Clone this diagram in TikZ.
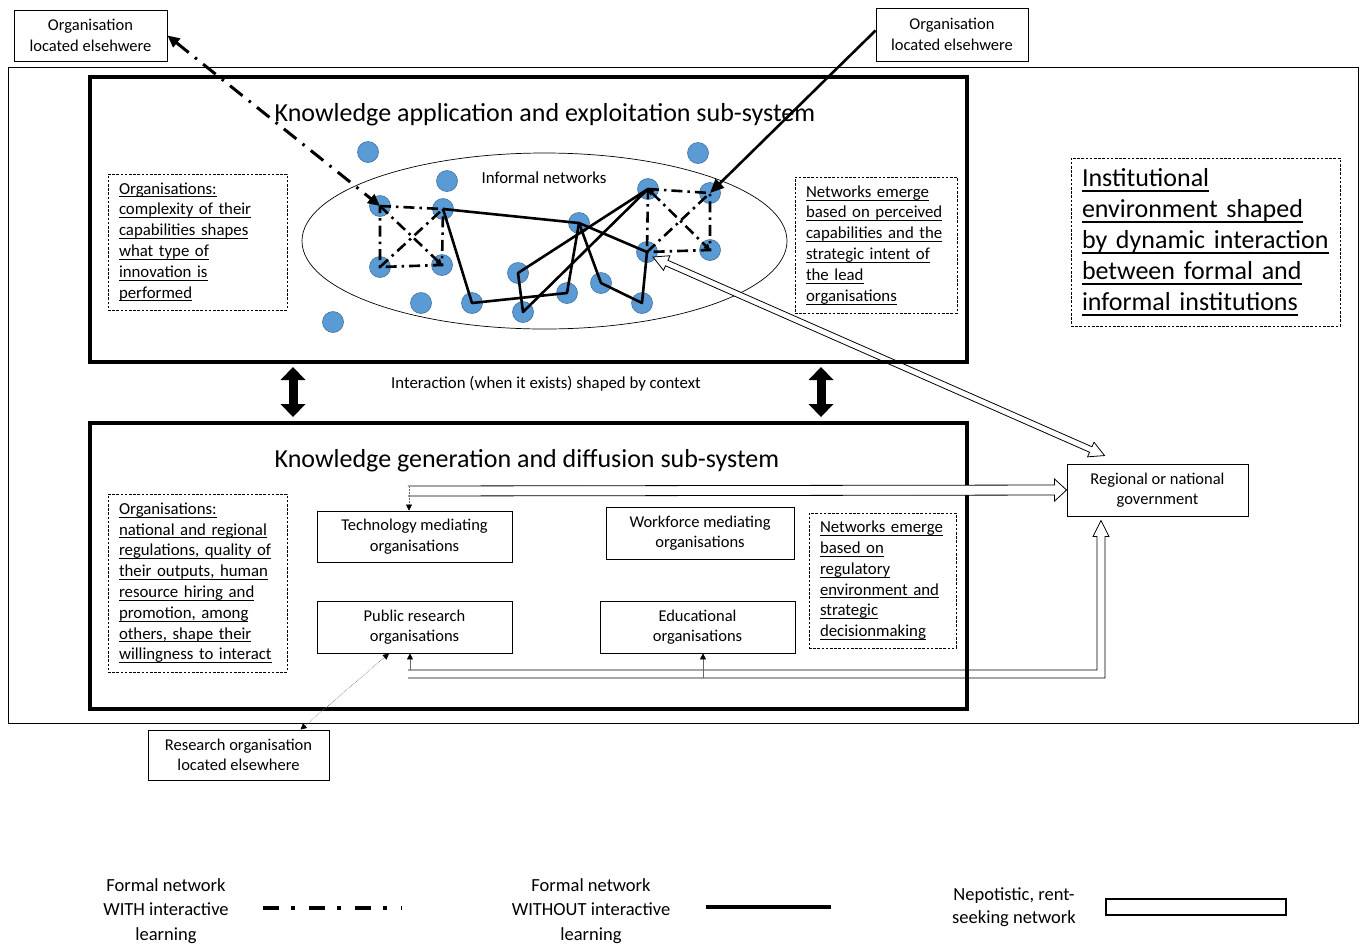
\documentclass[tikz,border=0pt]{standalone}
\usepackage{fontspec}
\setmainfont{Carlito}
\usetikzlibrary{arrows.meta,calc,shapes.geometric}
\definecolor{dotfill}{HTML}{5B9BD5}
\definecolor{dotedge}{HTML}{41719C}
\newcommand{\myul}[1]{\leavevmode\setbox0=\hbox{#1}\rlap{\rule[-0.2em]{\wd0}{0.06em}}\box0}
\newcommand{\hollowboth}[2]{%
  \coordinate (hA) at ($(#1)!15pt!(#2)$);
  \coordinate (hB) at ($(#2)!15pt!(#1)$);
  \draw[hollowline] ($(hA)!3pt!90:(#2)$) -- ($(hB)!3pt!-90:(#1)$) -- ($(hB)!8pt!-90:(#1)$) -- (#2)
     -- ($(hB)!8pt!90:(#1)$) -- ($(hB)!3pt!90:(#1)$) -- ($(hA)!3pt!-90:(#2)$) -- ($(hA)!8pt!-90:(#2)$)
     -- (#1) -- ($(hA)!8pt!90:(#2)$) -- cycle;}
\newcommand{\hollowone}[2]{%
  \coordinate (hB) at ($(#2)!12pt!(#1)$);
  \draw[hollowline] ($(#1)!5pt!90:(#2)$) -- ($(hB)!5pt!-90:(#1)$) -- ($(hB)!11pt!-90:(#1)$) -- (#2)
     -- ($(hB)!11pt!90:(#1)$) -- ($(hB)!5pt!90:(#1)$) -- ($(#1)!5pt!-90:(#2)$);}
\tikzset{
  plainbox/.style={draw, line width=0.9pt, inner sep=2pt, align=center, font=\fontsize{16.5}{20.5}\selectfont},
  notebox/.style={draw, dash pattern=on 2.6pt off 1.6pt, line width=0.8pt, align=left, inner xsep=11pt, inner ysep=0pt, font=\fontsize{16.8}{20.8}\selectfont},
  subsys/.style={draw, line width=3.5pt, inner sep=0pt},
  netdot/.style={circle, fill=dotfill, draw=dotedge, line width=0.6pt, minimum size=21pt, inner sep=0pt},
  plainlink/.style={line width=2.6pt, line join=round},
  learnlink/.style={line width=2.6pt, dash pattern=on 11pt off 5pt on 2.5pt off 5pt},
  hollowline/.style={line width=0.8pt, fill=white, line join=miter},
  smallarr/.style={line width=0.5pt, draw=black!60, -{Triangle[length=6pt,width=6pt,color=black]}},
  bigdouble/.style={line width=9pt, {Triangle[length=13pt,width=25pt,line width=0pt]}-{Triangle[length=13pt,width=25pt,line width=0pt]}},
  titletext/.style={font=\fontsize{26}{31}\selectfont},
  plaintext/.style={font=\fontsize{16.8}{20.5}\selectfont},
  legendtext/.style={align=center, font=\fontsize{18.5}{24.5}\selectfont},
}
\begin{document}
\begin{tikzpicture}[x=1pt,y=-1pt]
\useasboundingbox (0,0) rectangle (1365,946);

% environment
\node[draw, line width=0.8pt, minimum width=1350pt, minimum height=656pt, inner sep=0pt] (env) at (683,395) {};

% informal network ellipse
\node[draw, ellipse, line width=0.7pt, minimum width=485pt, minimum height=176pt, inner sep=0pt] (inf) at (544.5,241) {};
\node[plaintext] (inflabel) at (544,178) {Informal networks};

% organisations (dots)
\node[netdot] (o1) at (368,152) {};
\node[netdot] (o2) at (698,153) {};
\node[netdot] (o3) at (447,181) {};
\node[netdot] (a1) at (380,206) {};
\node[netdot] (a2) at (443,209) {};
\node[netdot] (a3) at (380,267) {};
\node[netdot] (a4) at (442,265) {};
\node[netdot] (o4) at (421,303) {};
\node[netdot] (o5) at (333,322) {};
\node[netdot] (c)  at (579,223) {};
\node[netdot] (n1) at (518,273) {};
\node[netdot] (n2) at (472,303) {};
\node[netdot] (n3) at (523,312) {};
\node[netdot] (n4) at (567,293) {};
\node[netdot] (n5) at (601,283) {};
\node[netdot] (n6) at (642,303) {};
\node[netdot] (b1) at (648,189) {};
\node[netdot] (b2) at (710,193) {};
\node[netdot] (b3) at (647,252) {};
\node[netdot] (b4) at (710,250) {};

% formal networks without interactive learning
\draw[plainlink] (a2.center) -- (n2.center) -- (n4.center) -- (c.center);
\draw[plainlink] (a2.center) -- (c.center) -- (b3.center) -- (n6.center) -- (n5.center) -- (c.center);
\draw[plainlink] (b1.center) -- (n1.center) -- (n3.center) -- cycle;

% formal networks with interactive learning
\draw[learnlink] (a1.center) -- (a2.center) -- (a4.center) -- (a3.center) -- cycle;
\draw[learnlink, -{Triangle[length=6pt,width=6pt]}] (a1.center) -- (a4.center);
\draw[learnlink] (a3.center) -- (a2.center);
\draw[learnlink] (b1.center) -- (b2.center) -- (b4.center) -- (b3.center) -- cycle;
\draw[learnlink, {Triangle[length=6pt,width=6pt]}-{Triangle[length=6pt,width=6pt]}] (b1.center) -- (b4.center);
\draw[learnlink] (b3.center) -- (b2.center);

% outside organisations
\node[plainbox, minimum width=153pt, minimum height=51pt] (tl) at (90.5,35.5) {Organisation\\located elsehwere};
\node[plainbox, minimum width=152pt, minimum height=53pt] (tr) at (952,34.5) {Organisation\\located elsehwere};
\draw[line width=3pt, dash pattern=on 16pt off 8pt on 2.5pt off 8pt,
  {Triangle[length=12pt,width=11pt]}-{Triangle[length=12pt,width=11pt]}] (tl.east) -- (a1.center);
\draw[plainlink, -{Triangle[length=14pt,width=12pt]}] ([yshift=4pt]tr.west) -- (b2.center);

% government
\node[plainbox, minimum width=181pt, minimum height=52pt] (gov) at (1157.5,490) {Regional or national\\government};
\coordinate (govin) at ($(gov.north)+(-53,-8)$);
\coordinate (b3in) at ($(b3.center)+(6,5)$);
\hollowboth{govin}{b3in}

% sub-systems
\node[subsys, minimum width=877pt, minimum height=285pt] (ka) at (528.5,219.5) {};
\node[subsys, minimum width=877pt, minimum height=286pt] (kg) at (528.5,566) {};
\node[titletext] (katitle) at (545,114.5) {Knowledge application and exploitation sub-system};
\node[titletext] (kgtitle) at (527,460.5) {Knowledge generation and diffusion sub-system};
\node[plaintext] (inter) at (546,384) {Interaction (when it exists) shaped by context};

\coordinate (v1t) at (293,367); \coordinate (v1b) at (293,417);
\coordinate (v2t) at (821,367); \coordinate (v2b) at (821,417);
\draw[bigdouble] (v1t) -- (v1b);
\draw[bigdouble] (v2t) -- (v2b);

% notes
\node[notebox, text width=157pt, minimum height=136pt] (noteA) at (197.5,242)
 {\myul{Organisations:}\\\myul{complexity of their}\\\myul{capabilities shapes}\\\myul{what type of}\\\myul{innovation is}\\\myul{performed}};
\node[notebox, text width=140pt, minimum height=136pt] (noteB) at (876,245)
 {\myul{Networks emerge}\\\myul{based on perceived}\\\myul{capabilities and the}\\\myul{strategic intent of}\\\myul{the lead}\\\myul{organisations}};
\node[notebox, text width=157pt, minimum height=178pt] (noteC) at (197.5,583)
 {\myul{Organisations:}\\\myul{national and regional}\\\myul{regulations, quality of}\\\myul{their outputs, human}\\\myul{resource hiring and}\\\myul{promotion, among}\\\myul{others, shape their}\\\myul{willingness to interact}};
\node[notebox, text width=125pt, minimum height=135pt] (noteD) at (882.5,580.5)
 {\myul{Networks emerge}\\\myul{based on}\\\myul{regulatory}\\\myul{environment and}\\\myul{strategic}\\\myul{decisionmaking}};
\node[notebox, text width=247pt, minimum height=168pt, font=\fontsize{26}{31}\selectfont] (inst) at (1205.5,242)
 {\myul{Institutional}\\\myul{environment shaped}\\\myul{by dynamic interaction}\\\myul{between formal and}\\\myul{informal institutions}};

% knowledge generation organisations
\node[plainbox, minimum width=195pt, minimum height=51pt] (tech) at (414.5,536.5) {Technology mediating\\organisations};
\node[plainbox, minimum width=188pt, minimum height=52pt] (work) at (700,533) {Workforce mediating\\organisations};
\node[plainbox, minimum width=195pt, minimum height=52pt] (pub) at (414.5,627) {Public research\\organisations};
\node[plainbox, minimum width=195pt, minimum height=52pt] (edu) at (697.5,627) {Educational\\organisations};
\node[plainbox, minimum width=181pt, minimum height=50pt] (reso) at (238.5,755) {Research organisation\\located elsewhere};

% nepotistic links to government
\coordinate (tst) at (408,491);
\hollowone{tst}{gov.west}
\coordinate (bst) at (408,674);
\coordinate (gbt) at ($(gov.south)+(-56.5,4)$);
\draw[hollowline, fill=none] ($(bst)+(0,-4)$) -| ($(gbt)+(-4,16)$) -- ($(gbt)+(-8,16)$) -- (gbt)
   -- ($(gbt)+(8,16)$) -- ($(gbt)+(4,16)$) |- ($(bst)+(0,4)$);
\coordinate (tdrop) at (409,487);
\draw[smallarr, densely dotted] (tdrop) -- ([xshift=-5.5pt]tech.north);
\coordinate (pdrop) at (410,670);
\draw[smallarr] (pdrop) -- ([xshift=-4.5pt]pub.south);
\coordinate (edrop) at (703,678);
\draw[smallarr] (edrop) -- ([xshift=5.5pt]edu.south);
\draw[line width=0.6pt, draw=black!60, densely dotted,
  {Triangle[length=6pt,width=6pt,color=black]}-{Triangle[length=6pt,width=6pt,color=black]}]
  ([xshift=-25.5pt]pub.south) -- ([xshift=62pt]reso.north);

% legend
\node[legendtext] (leg1) at (166,911) {Formal network\\WITH interactive\\learning};
\coordinate (l1a) at (263,908); \coordinate (l1b) at (402,908);
\draw[line width=4pt, dash pattern=on 16pt off 12pt on 4pt off 14pt] (l1a) -- (l1b);
\node[legendtext] (leg2) at (591,911) {Formal network\\WITHOUT interactive\\learning};
\coordinate (l2a) at (706,907); \coordinate (l2b) at (831,907);
\draw[line width=4.5pt] (l2a) -- (l2b);
\node[legendtext, font=\fontsize{18.5}{23}\selectfont] (leg3) at (1014,907.5) {Nepotistic, rent-\\seeking network};
\node[draw, line width=1.5pt, minimum width=180pt, minimum height=16pt, inner sep=0pt] (leg3box) at (1196,907) {};
\end{tikzpicture}
\end{document}
